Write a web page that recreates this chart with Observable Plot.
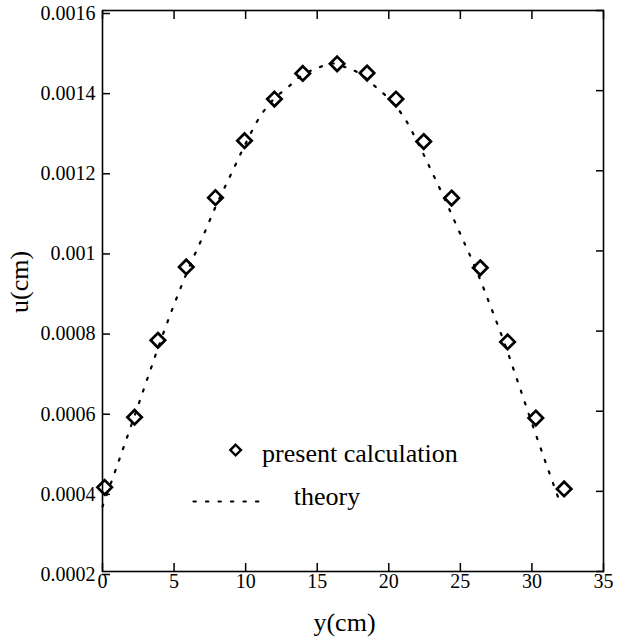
<!DOCTYPE html>
<html><head><meta charset="utf-8">
<script src="https://cdn.jsdelivr.net/npm/d3@7"></script>
<script src="https://cdn.jsdelivr.net/npm/@observablehq/plot@0.6"></script>
<style>body{margin:0;background:#fff} svg{display:block}</style>
</head><body><div id="chart"></div>
<script>
// present calculation (diamonds)
const calcY = [0.15, 2.24, 3.87, 5.85, 7.89, 9.92, 12.01, 13.99, 16.39, 18.48, 20.50, 22.44, 24.39, 26.39, 28.30, 30.27, 32.25];
const calcU = [0.000410, 0.000585, 0.000777, 0.000960, 0.001133, 0.001275, 0.001379, 0.001443, 0.001467, 0.001444, 0.001379, 0.001273, 0.001132, 0.000958, 0.000773, 0.000583, 0.000406];
// theory (dotted curve)
const theoryY = [0,1,2,3,4,5,6,7,8,9,10,11,12,13,14,15,16,17,18,19,20,21,22,23,24,25,26,27,28,29,30,31,32];
const theoryU = [0.000362, 0.000462, 0.000564, 0.000667, 0.000770, 0.000866, 0.000955, 0.001035, 0.001118, 0.001193, 0.001268, 0.001335, 0.001380, 0.001410, 0.001440, 0.001456, 0.001468, 0.001458, 0.001442, 0.001412, 0.001380, 0.001337, 0.001272, 0.001198, 0.001122, 0.001042, 0.000962, 0.000872, 0.000778, 0.000675, 0.000570, 0.000468, 0.000368];
// axes
const xTicks = [0, 5, 10, 15, 20, 25, 30, 35];
const xTickLabels = ["0", "5", "10", "15", "20", "25", "30", "35"];
const yTicks = [0.0002, 0.0004, 0.0006, 0.0008, 0.001, 0.0012, 0.0014, 0.0016];
const yTickLabels = ["0.0002", "0.0004", "0.0006", "0.0008", "0.001", "0.0012", "0.0014", "0.0016"];
const xTitle = "y(cm)";
const yTitle = "u(cm)";
// legend
const legendLabels = ["present calculation", "theory"];
const legendX = [9.3, 11.15];   // diamond, text start
const legendU = [0.000503, 0.000493];
const legendLineX = [6.35, 11.25];
const legendLineU = 0.000375;
const legendTheoryTextX = 13.36;
const legendTheoryTextU = 0.000387;

const calc = calcY.map((y, i) => ({y, u: calcU[i]}));
const theory = theoryY.map((y, i) => ({y, u: theoryU[i]}));

const font = "'Liberation Serif', 'Times New Roman', serif";
const dotted = "2.2,10";

const chart = Plot.plot({
  width: 623,
  height: 639,
  marginTop: 10,
  marginRight: 20,
  marginBottom: 68,
  marginLeft: 102,
  style: {fontFamily: font, fontSize: "20px", background: "#fff", color: "#000"},
  x: {domain: [0, 35]},
  y: {domain: [0.0002, 0.0016]},
  marks: [
    Plot.line(theory, {x: "y", y: "u", curve: "catmull-rom", stroke: "#000", strokeWidth: 2.2, strokeDasharray: dotted}),
    Plot.dot(calc, {x: "y", y: "u", symbol: "diamond2", r: 6.5, stroke: "#000", strokeWidth: 2.7, fill: "none"}),
    Plot.frame({stroke: "#000", strokeWidth: 1.6}),
    Plot.axisX(xTicks, {anchor: "bottom", tickSize: -8, tickPadding: 10, strokeWidth: 1.5, fontSize: 20,
      tickFormat: d => xTickLabels[xTicks.indexOf(d)], label: null}),
    Plot.axisX(xTicks, {anchor: "top", tickSize: -8, strokeWidth: 1.5, tickFormat: () => "", label: null}),
    Plot.axisY(yTicks, {anchor: "left", tickSize: -8, tickPadding: 15, dy: 3, strokeWidth: 1.5, fontSize: 20,
      tickFormat: d => yTickLabels[yTicks.indexOf(d)], label: null}),
    Plot.axisY(yTicks, {anchor: "right", tickSize: -8, strokeWidth: 1.5, tickFormat: () => "", label: null}),
    Plot.text([yTitle], {frameAnchor: "left", dx: -83, dy: 22, rotate: -90, fontSize: 26}),
    Plot.text([xTitle], {frameAnchor: "bottom", dx: -8.5, dy: 59, fontSize: 26}),
    // legend
    Plot.dot([0], {x: () => legendX[0], y: () => legendU[0], symbol: "diamond2", r: 4.8, stroke: "#000", strokeWidth: 2.4, fill: "none"}),
    Plot.text([legendLabels[0]], {x: () => legendX[1], y: () => legendU[1], textAnchor: "start", fontSize: 26}),
    Plot.line(legendLineX.map(x => ({x, u: legendLineU})), {x: "x", y: "u", stroke: "#000", strokeWidth: 2, strokeDasharray: "2.5,10"}),
    Plot.text([legendLabels[1]], {x: () => legendTheoryTextX, y: () => legendTheoryTextU, textAnchor: "start", fontSize: 26})
  ]
});
document.getElementById("chart").appendChild(chart);
</script>
</body></html>
